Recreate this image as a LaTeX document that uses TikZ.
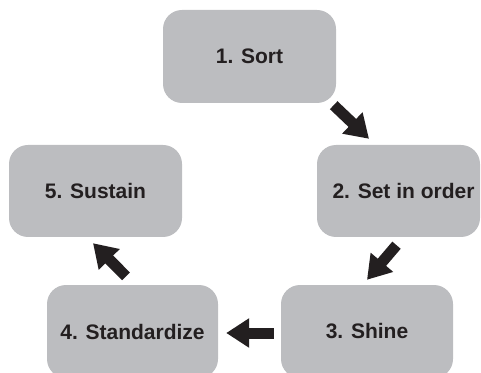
\documentclass[tikz,border=0pt]{standalone}
\usepackage{fontspec}
\setmainfont{Liberation Sans}
\usepackage{tikz}
\usetikzlibrary{positioning, arrows.meta}

\definecolor{boxgray}{HTML}{BCBDC0}
\definecolor{inkblack}{HTML}{231F20}

\begin{document}
\begin{tikzpicture}[x=1pt, y=1pt,
  box node/.style={rectangle, rounded corners=19pt, fill=boxgray, text=inkblack,
    font=\fontsize{21}{25}\selectfont\bfseries, inner sep=0pt},
  flow/.style={draw=inkblack, line width=11pt, -{Triangle[length=23pt, width=28pt]}}]

\useasboundingbox (0,0) rectangle (481,372);
\clip (0,0) rectangle (481,372);

\node[box node, minimum width=173pt, minimum height=93pt] (sort) at (249.5,315.5) {1. Sort};
\node[box node, minimum width=163pt, minimum height=92pt] (order) at (398.5,181) {\hspace*{10pt}2. Set in order};
\node[box node, minimum width=172pt, minimum height=93pt] (shine) at (367,40.5) {3. Shine};
\node[box node, minimum width=171pt, minimum height=93pt] (standard) at (132.5,40.5) {4. Standardize};
\node[box node, minimum width=173pt, minimum height=92pt] (sustain) at (95.5,181) {5. Sustain};

% the cycle
\draw[flow] ([shift={(-2.5,-2)}]sort.south east) -- ([shift={(-29.5,6)}]order.north);
\draw[flow] ([shift={(-2,-8)}]order.south) -- ([shift={(0,5)}]shine.north);
\draw[flow] ([shift={(-7,-1.5)}]shine.west) -- ([shift={(8,-1.5)}]standard.east);
\draw[flow] ([shift={(-6.5,8.5)}]standard.north) -- ([shift={(-2.5,-6)}]sustain.south);

\end{tikzpicture}
\end{document}
